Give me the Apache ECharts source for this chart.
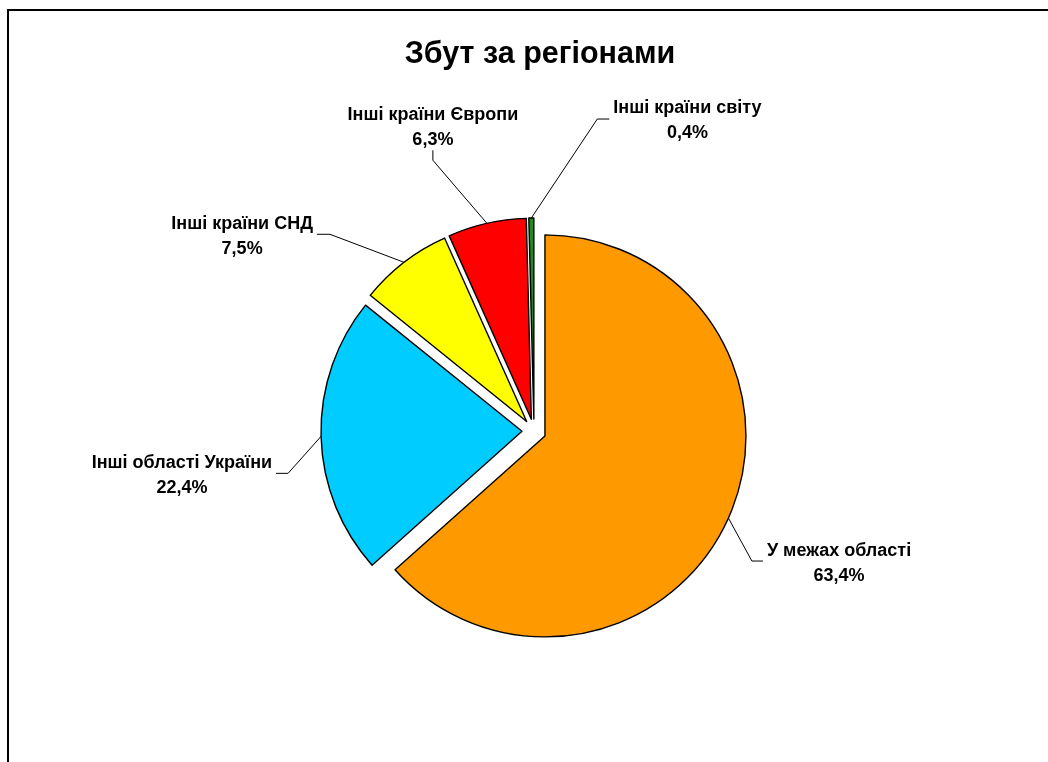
<!DOCTYPE html>
<html><head><meta charset="utf-8">
<script src="https://cdn.jsdelivr.net/npm/echarts@6/dist/echarts.min.js"></script>
<style>html,body{margin:0;padding:0;background:#fff}#c{width:1048px;height:762px}</style>
</head><body><div id="c"></div>
<script>
// ---- data ----
const categories = ['У межах області', 'Інші області України', 'Інші країни СНД', 'Інші країни Європи', 'Інші країни світу'];
const shares = [63.4, 22.4, 7.5, 6.3, 0.4];
const colors = ['#FF9900', '#00CCFF', '#FFFF00', '#FF0000', '#1E8C1E'];
const titleText = 'Збут за регіонами';

// ---- layout ----
const CX = 534, CY = 431, R = 201, EXPLODE = 12;
const leader = [
  { elbow: [23.5, 43], stub: [11, 0] },
  { elbow: [-33, 37], stub: [-12, 0] },
  { elbow: [-74, -28], stub: [-13, 0] },
  { elbow: [-54, -63], stub: [0, -10] },
  { elbow: [66, -99], stub: [12, 0] }
];
const GAP = 4, VGAP = 0, DY = 2;
const FONT = 'Liberation Sans, Arial, sans-serif';

const total = shares.reduce((a, b) => a + b, 0);
let cum = 0;
const mids = shares.map(v => { const m = (cum + v / 2) / total * 360; cum += v; return m; });
const dirs = mids.map(m => { const r = m * Math.PI / 180; return [Math.sin(r), -Math.cos(r)]; });

const fmt = p => p.name + '\n' + String(p.value).replace('.', ',') + '%';

const series = shares.map((_, i) => {
  const c = [CX + EXPLODE * dirs[i][0], CY + EXPLODE * dirs[i][1]];
  const L = leader[i];
  return {
    type: 'pie', silent: true, animation: false, startAngle: 90, clockwise: true,
    center: c, radius: [0, R], avoidLabelOverlap: false,
    label: { show: false }, labelLine: { show: false },
    emphasis: { disabled: true },
    data: categories.map((name, j) => j === i ? {
      name, value: shares[j],
      itemStyle: { color: colors[j], borderColor: '#000', borderWidth: 1.4 },
      label: { show: true, position: 'outside', formatter: fmt, color: '#000', fontFamily: FONT,
               fontWeight: 'bold', fontSize: 18, lineHeight: 25 },
      labelLine: { show: true, lineStyle: { color: '#000', width: 1 } }
    } : {
      name, value: shares[j],
      itemStyle: { color: 'rgba(0,0,0,0)', borderWidth: 0 },
      label: { show: false }, labelLine: { show: false }
    }),
    labelLayout: function (p) {
      const A = [c[0] + R * dirs[i][0], c[1] + R * dirs[i][1]];
      const E = [A[0] + L.elbow[0], A[1] + L.elbow[1]];
      const S = [E[0] + L.stub[0], E[1] + L.stub[1]];
      const w = p.labelRect.width, h = p.labelRect.height;
      let x, y;
      if (L.stub[0] > 0) { x = S[0] + GAP + w / 2; y = S[1] + DY; }
      else if (L.stub[0] < 0) { x = S[0] - GAP - w / 2; y = S[1] + DY; }
      else { x = S[0]; y = S[1] - VGAP - h / 2 + DY; }
      return { x, y, align: 'center', verticalAlign: 'middle', labelLinePoints: [A, E, S] };
    }
  };
});

const chart = echarts.init(document.getElementById('c'), null, { renderer: 'canvas' });
chart.setOption({
  backgroundColor: '#fff',
  animation: false,
  title: {
    text: titleText, left: 535, top: 34, textAlign: 'center',
    textStyle: { fontFamily: FONT, fontWeight: 'bold', fontSize: 30.5, color: '#000' }
  },
  graphic: [{
    type: 'rect', silent: true, z: -10,
    shape: { x: 8, y: 10, width: 1200, height: 900 },
    style: { fill: 'none', stroke: '#000', lineWidth: 2 }
  }],
  series
});
</script></body></html>
